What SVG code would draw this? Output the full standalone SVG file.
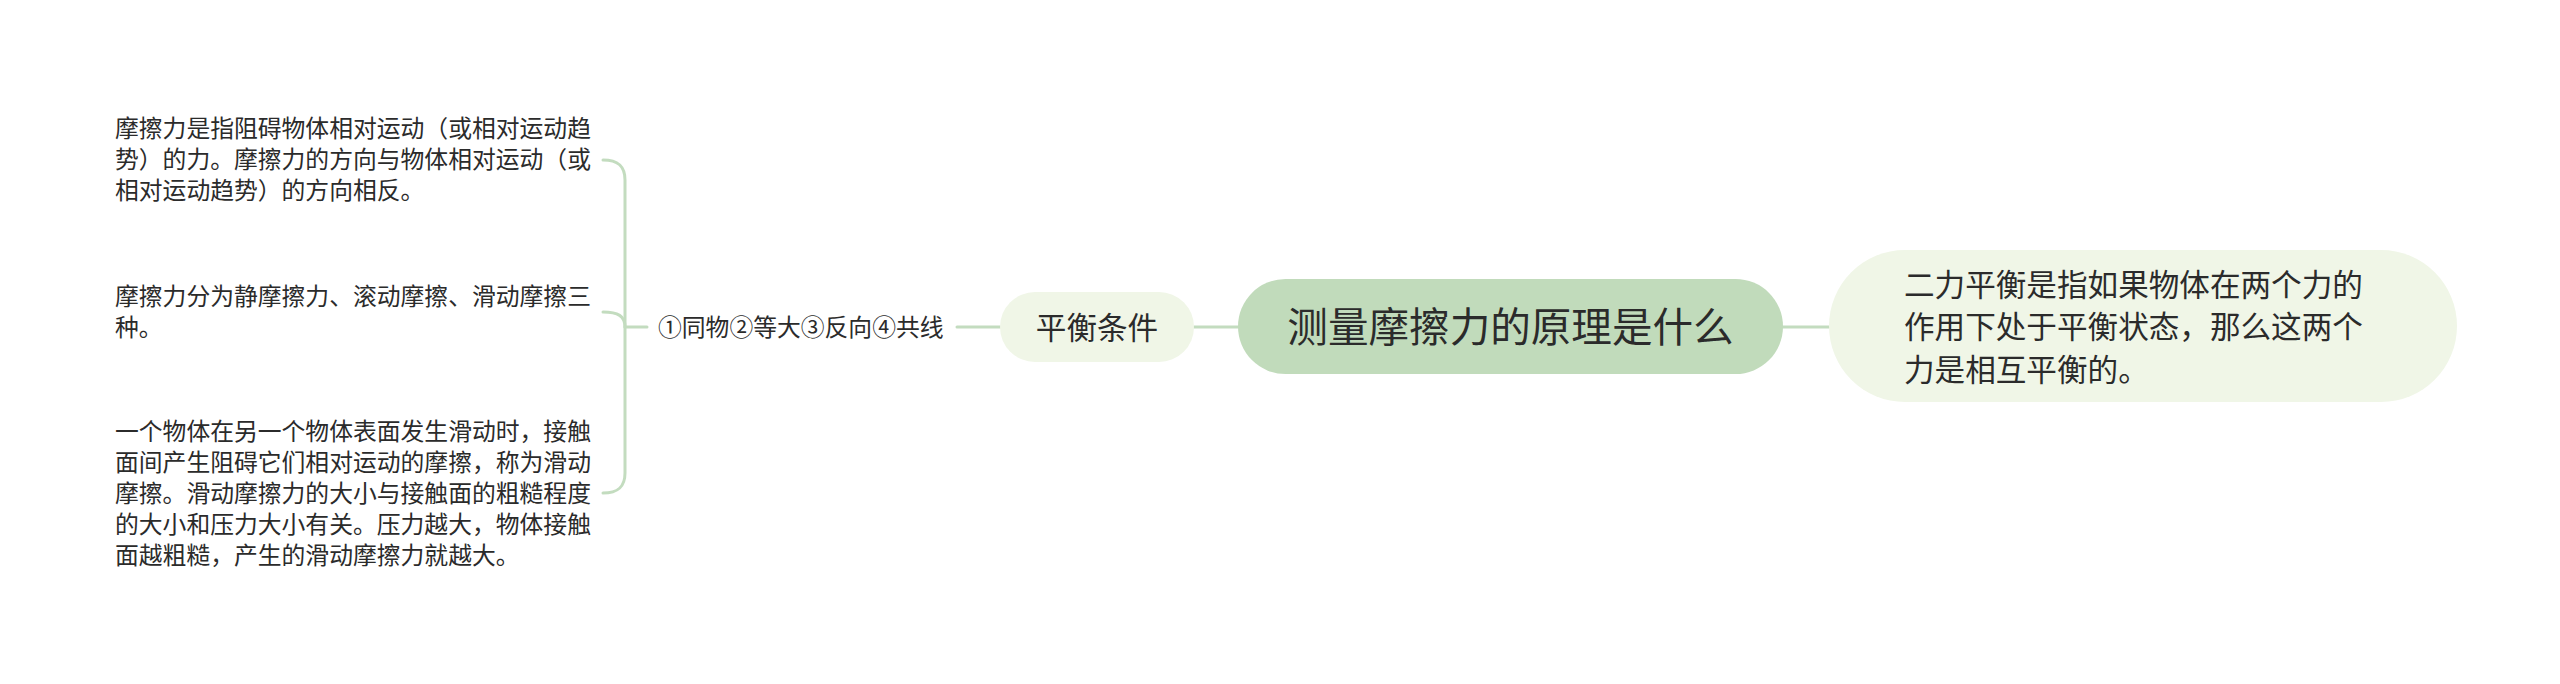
<svg xmlns="http://www.w3.org/2000/svg" width="2560" height="684" viewBox="0 0 2560 684">
<style>
text{font-family:"Noto Sans CJK SC","Noto Sans",sans-serif;fill:#2b2b2b}
.small{font-size:23.8px}
.mid{font-size:30.6px}
.big{font-size:40.6px}
.conn{fill:none;stroke:#c3dcbf;stroke-width:3;stroke-linecap:round}
</style>
<rect width="2560" height="684" fill="#ffffff"/>
<g id="connectors">
<path class="conn" d="M1783,327 L1829,327"/>
<path class="conn" d="M1194,327 L1238,327"/>
<path class="conn" d="M957,327 L1000,327"/>
<path class="conn" d="M625,327 L647,327"/>
<path class="conn" d="M603,160 C618,160 625,166 625,180 L625,473 C625,487 618,493 603,493"/>
<path class="conn" d="M603,312 C618,312 625,316 625,327"/>
</g>
<g id="root">
<rect x="1238" y="279" width="545" height="95" rx="47.5" fill="#c1dbbb"/>
<text class="big" x="1510.5" y="342" text-anchor="middle">测量摩擦力的原理是什么</text>
</g>
<g id="right-node">
<rect x="1829" y="250" width="628" height="152" rx="76" fill="#f0f6e7"/>
<text class="mid" x="1904" y="295.6">二力平衡是指如果物体在两个力的</text>
<text class="mid" x="1904" y="338">作用下处于平衡状态，那么这两个</text>
<text class="mid" x="1904" y="380.6">力是相互平衡的。</text>
</g>
<g id="balance">
<rect x="1000" y="292" width="194" height="70" rx="35" fill="#f0f6e7"/>
<text class="mid" x="1097" y="338.6" text-anchor="middle">平衡条件</text>
</g>
<g id="conditions">
<text class="small" x="658" y="336">①同物②等大③反向④共线</text>
</g>
<g id="detail-1">
<text class="small" x="115" y="137">摩擦力是指阻碍物体相对运动（或相对运动趋</text>
<text class="small" x="115" y="168">势）的力。摩擦力的方向与物体相对运动（或</text>
<text class="small" x="115" y="199">相对运动趋势）的方向相反。</text>
</g>
<g id="detail-2">
<text class="small" x="115" y="305">摩擦力分为静摩擦力、滚动摩擦、滑动摩擦三</text>
<text class="small" x="115" y="336">种。</text>
</g>
<g id="detail-3">
<text class="small" x="115" y="440">一个物体在另一个物体表面发生滑动时，接触</text>
<text class="small" x="115" y="471">面间产生阻碍它们相对运动的摩擦，称为滑动</text>
<text class="small" x="115" y="502">摩擦。滑动摩擦力的大小与接触面的粗糙程度</text>
<text class="small" x="115" y="533">的大小和压力大小有关。压力越大，物体接触</text>
<text class="small" x="115" y="564">面越粗糙，产生的滑动摩擦力就越大。</text>
</g>
</svg>
